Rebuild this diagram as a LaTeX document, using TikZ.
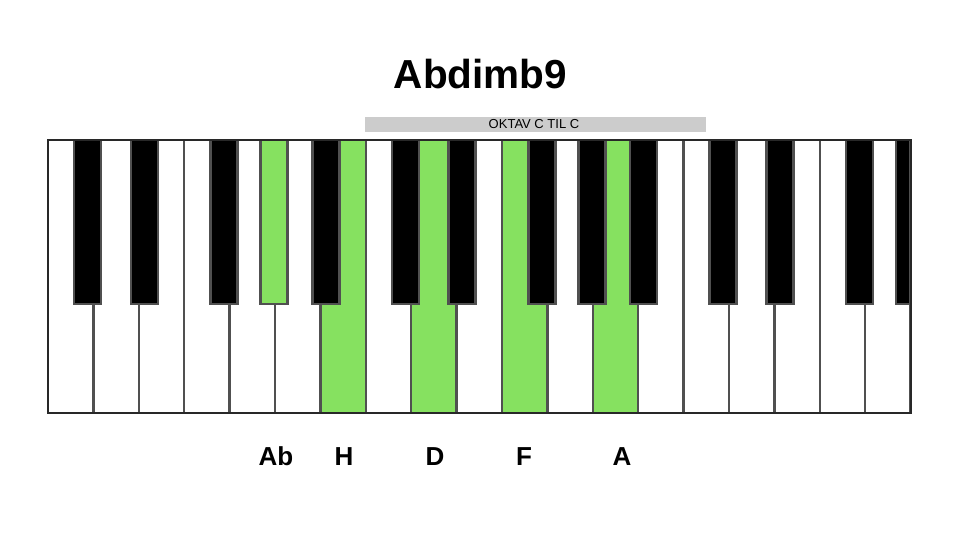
\documentclass[tikz,border=0pt]{standalone}
\usepackage{fontspec}
\setmainfont{Liberation Sans}
\definecolor{keygreen}{RGB}{134,225,96}
\definecolor{keyline}{RGB}{80,80,80}
\definecolor{barfill}{RGB}{204,204,204}
\tikzset{
  whitekey/.style={fill=white, draw=keyline, line width=2.4pt},
  greenkey/.style={fill=keygreen, draw=keyline, line width=2.4pt},
  blackkey/.style={fill=black, draw=keyline, line width=2.4pt},
  gblackkey/.style={fill=keygreen, draw=keyline, line width=2.4pt},
  notelabel/.style={font=\fontsize{26}{30}\selectfont\bfseries, anchor=base},
}
\begin{document}
\begin{tikzpicture}[x=1pt,y=-1pt]
\useasboundingbox (0,0) rectangle (960,540);
\fill[white] (0,0) rectangle (960,540);
% white keys
\foreach \i in {0,...,18}{
  \pgfmathsetmacro{\xa}{48+45.4*\i}
  \pgfmathsetmacro{\xb}{48+45.4*(\i+1)}
  \ifnum\i=6 \def\st{greenkey}\else
  \ifnum\i=8 \def\st{greenkey}\else
  \ifnum\i=10 \def\st{greenkey}\else
  \ifnum\i=12 \def\st{greenkey}\else
  \def\st{whitekey}\fi\fi\fi\fi
  \draw[\st] (\xa,140) rectangle (\xb,413);
}
% black keys: boundary index / offset
\foreach \b/\o in {1/-6,2/5.5,4/-5.5,6/5.5,8/-6,9/5.5,11/-5.5,12/-1,13/5.5,15/-6,16/5.5,18/-5.5}{
  \pgfmathsetmacro{\xc}{48+45.4*\b+\o}
  \draw[blackkey] (\xc-13.5,140) rectangle (\xc+13.5,304);
}
% G#/Ab (green)
\pgfmathsetmacro{\xg}{48+45.4*5-1}
\draw[gblackkey] (\xg-13.5,140) rectangle (\xg+13.5,304);
% last clipped G#
\draw[blackkey] (896,140) rectangle (910.6,304);
% frame
\draw[line width=2pt, draw={rgb,255:red,40;green,40;blue,40}] (48,140) rectangle (910.6,413);
% title and bar
\node[font=\fontsize{40.5}{46}\selectfont\bfseries, anchor=base] (title) at (480.5,89) {Abdimb9};
\fill[barfill] (365,117) rectangle (706,132);
\node[font=\fontsize{13}{15}\selectfont, anchor=base] (oktav) at (534,129) {OKTAV C TIL C};
% note labels
\node[notelabel] (ab) at (276,465) {Ab};
\node[notelabel] (h) at (344,465) {H};
\node[notelabel] (d) at (435,465) {D};
\node[notelabel] (f) at (524,465) {F};
\node[notelabel] (a) at (622,465) {A};
\end{tikzpicture}
\end{document}
